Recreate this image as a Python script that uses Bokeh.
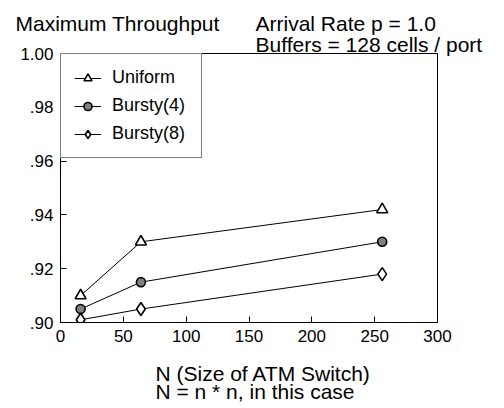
from bokeh.plotting import figure
from bokeh.models import Range1d, FixedTicker, CustomJSTickFormatter, Label, Legend
from bokeh.embed import file_html
from bokeh.resources import INLINE

# ---- data ----
n_size = [16, 64, 256]
uniform = [0.910, 0.930, 0.942]
bursty4 = [0.905, 0.915, 0.930]
bursty8 = [0.901, 0.905, 0.918]

x_ticks = [0, 50, 100, 150, 200, 250, 300]
y_ticks = [0.90, 0.92, 0.94, 0.96, 0.98, 1.00]
y_tick_labels = [".90", ".92", ".94", ".96", ".98", "1.00"]

title_left = "Maximum Throughput"
title_right1 = "Arrival Rate  p = 1.0"
title_right2 = "Buffers  = 128 cells / port"
xlabel1 = "N (Size of ATM Switch)"
xlabel2 = "N = n * n,  in this case"

FONT = "Liberation Sans"

p = figure(width=504, height=408, output_backend="svg", toolbar_location=None,
           x_range=Range1d(0, 300), y_range=Range1d(0.90, 1.00),
           min_border_left=60, min_border_right=67, min_border_top=53, min_border_bottom=86)
p.background_fill_color = "white"
p.border_fill_color = "white"
p.outline_line_color = "black"
p.outline_line_width = 1
p.grid.visible = False

for ax in (p.xaxis[0], p.yaxis[0]):
    ax.axis_line_color = "black"
    ax.major_tick_line_color = "black"
    ax.major_tick_in = 6
    ax.major_tick_out = 0
    ax.minor_tick_line_color = None
    ax.major_label_text_font = FONT
    ax.major_label_text_font_size = "17px"
    ax.major_label_text_color = "black"

p.xaxis.ticker = FixedTicker(ticks=x_ticks)
p.xaxis.major_label_standoff = 7
p.yaxis.ticker = FixedTicker(ticks=y_ticks)
p.yaxis.major_label_standoff = 7
p.yaxis.formatter = CustomJSTickFormatter(
    args=dict(tvals=y_ticks, tlabels=y_tick_labels),
    code="""
    for (let i = 0; i < tvals.length; i++) {
        if (Math.abs(tvals[i] - tick) < 1e-9) { return tlabels[i]; }
    }
    return "";
    """)

series = [
    ("Uniform", uniform, "triangle", 11, "white"),
    ("Bursty(4)", bursty4, "circle", 9, "#808080"),
    ("Bursty(8)", bursty8, "diamond", 13, "white"),
]
items = []
for name, vals, marker, size, fill in series:
    l = p.line(n_size, vals, line_color="black", line_width=1)
    s = p.scatter(n_size, vals, marker=marker, size=size, fill_color=fill,
                  line_color="black", line_width=1.6)
    items.append((name, [l, s]))

legend = Legend(items=items, location="top_left", margin=0, padding=13,
                border_line_color="black", border_line_width=1,
                background_fill_color="white", background_fill_alpha=1,
                label_text_font=FONT, label_text_font_size="18px",
                label_text_color="black",
                label_height=20, glyph_height=20, glyph_width=27,
                label_standoff=11, spacing=7, label_width=76)
p.add_layout(legend, "center")

def add_text(txt, x, y, place, line_height=1.2):
    p.add_layout(Label(x=x, y=y, x_units="data", y_units="data", text=txt,
                       text_font=FONT, text_font_size="21px", text_color="black",
                       text_baseline="alphabetic", text_align="left",
                       text_line_height=line_height), place)

# header (outside the frame, positioned in data units of the frame scales)
add_text(title_left, -35.8, 1.0110, "above")
add_text(title_right1, 155.2, 1.0111, "above")
add_text(title_right2, 155.2, 1.0034, "below")
add_text(xlabel1 + "\n" + xlabel2, 75.6, 0.8777, "below", line_height=0.77)

open("out.html", "w").write(file_html(p, INLINE))
